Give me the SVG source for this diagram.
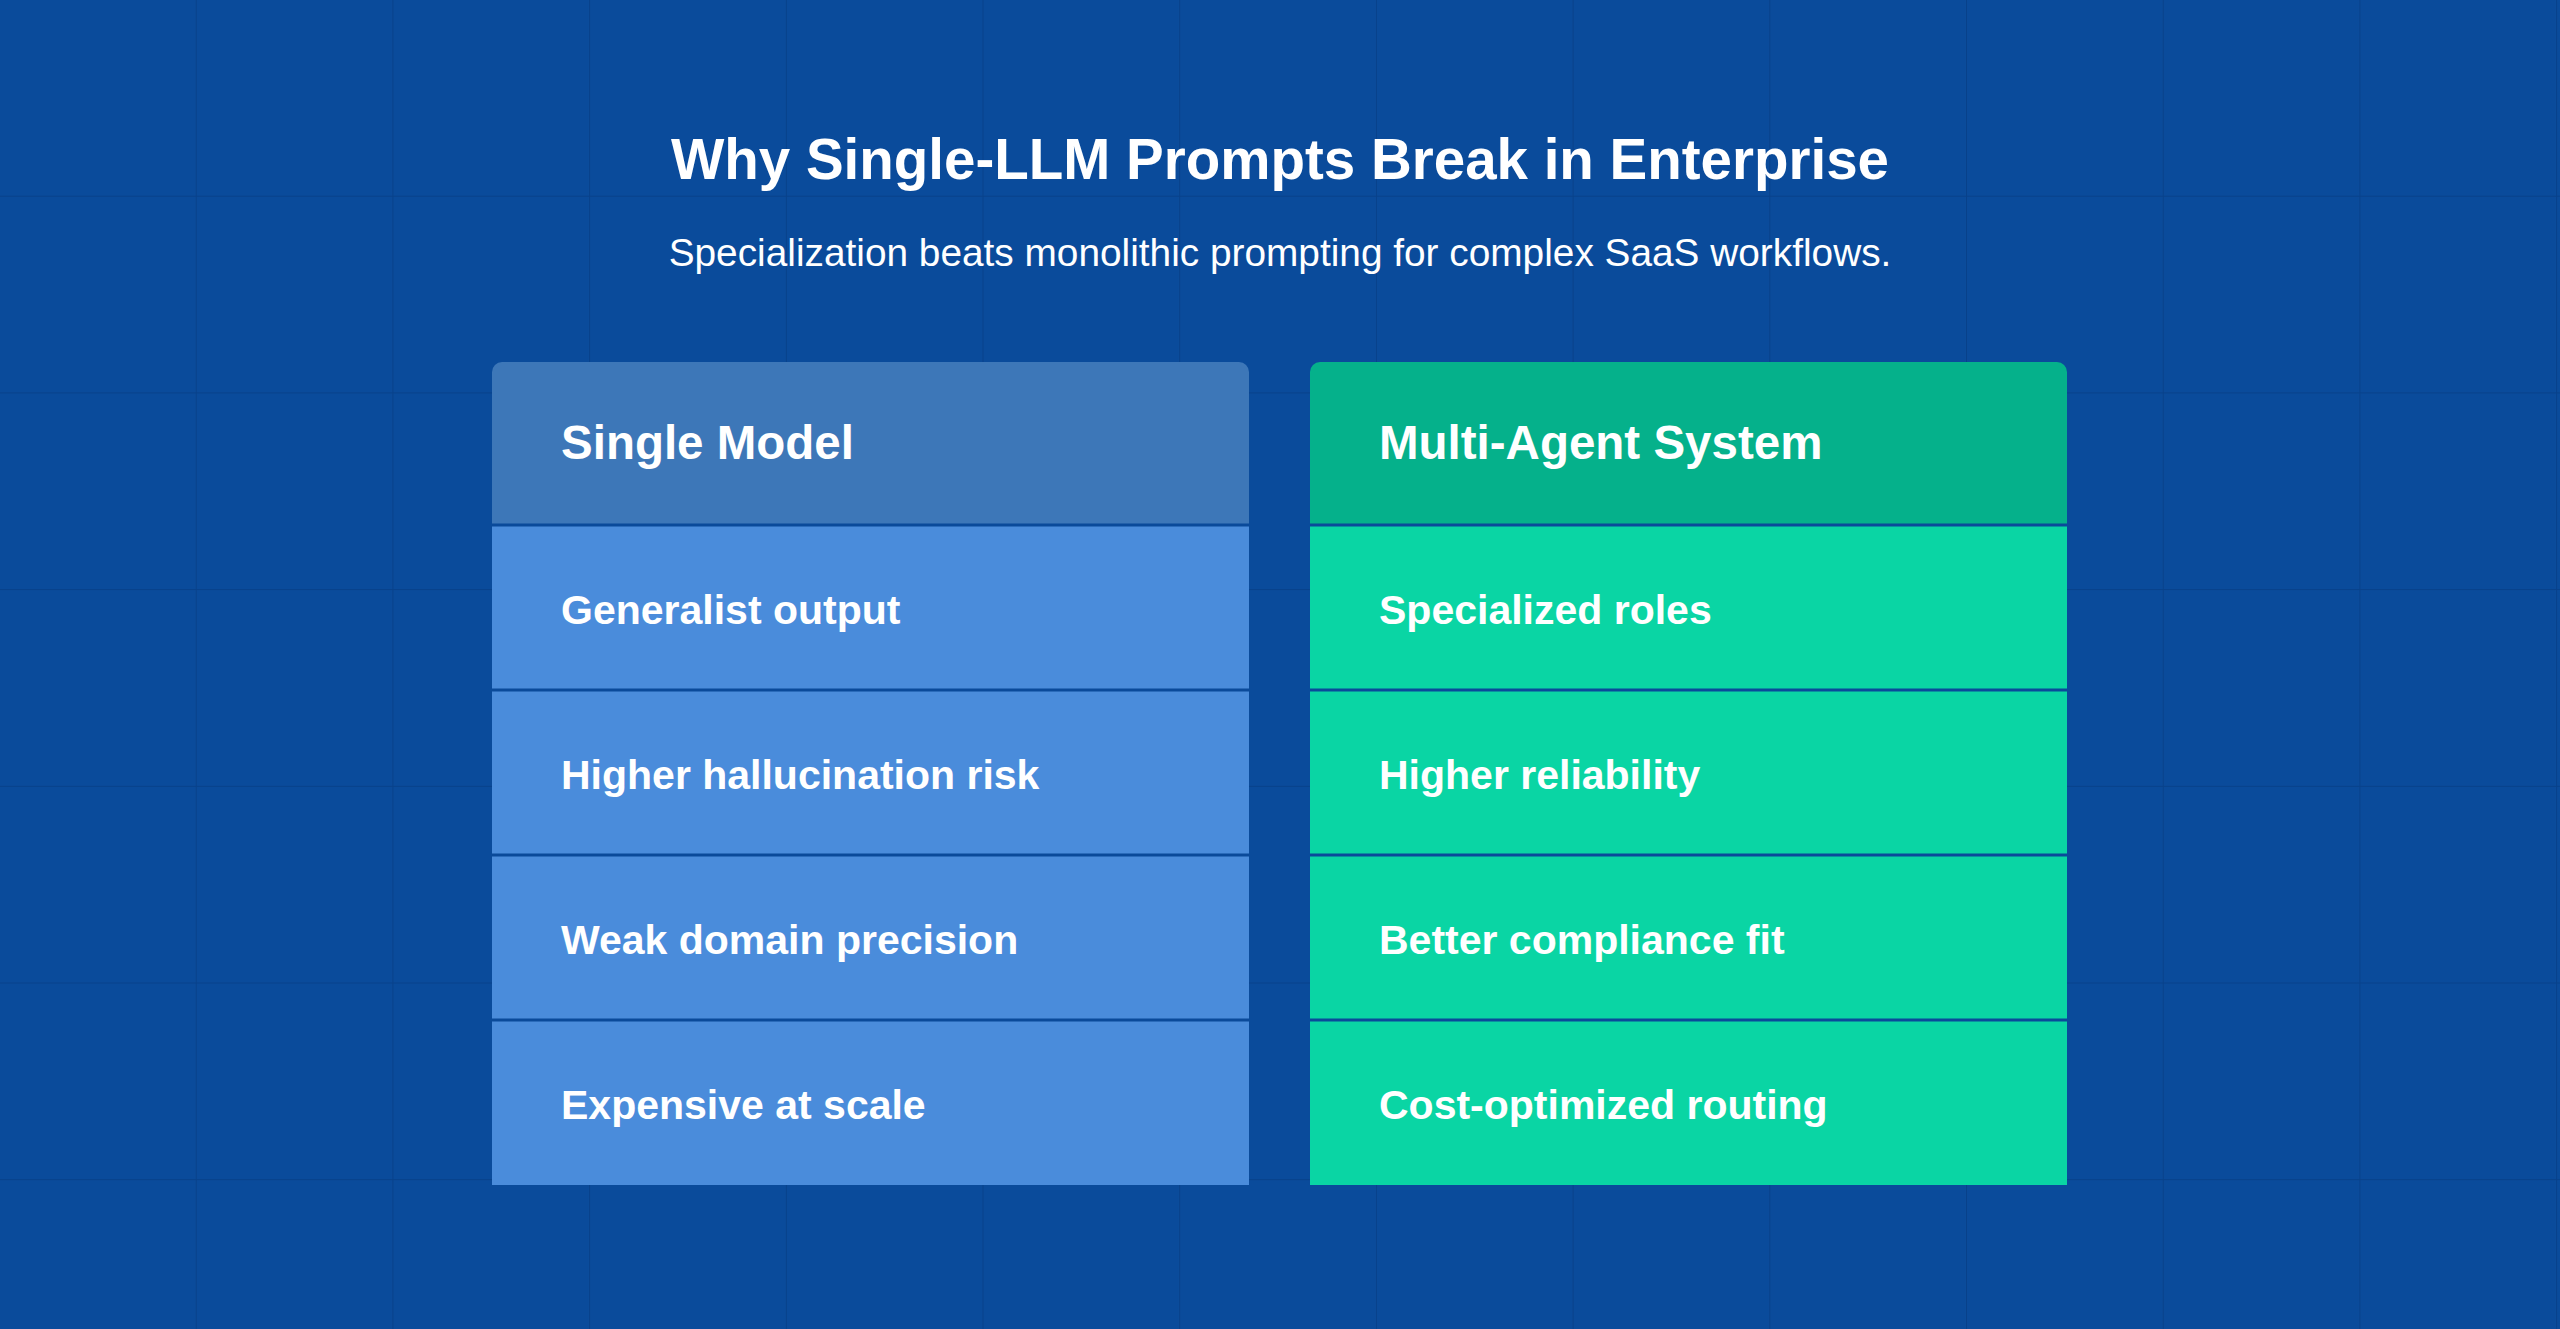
<svg xmlns="http://www.w3.org/2000/svg" width="2560" height="1329" viewBox="0 0 2560 1329">
<defs>
<pattern id="grid" x="0" y="0" width="196.7" height="196.7" patternUnits="userSpaceOnUse">
<path d="M196.7 0V196.7M0 196.7H196.7" fill="none" stroke="#08418A" stroke-width="2"/>
</pattern>
<style>
text{font-family:"Liberation Sans",Arial,sans-serif;fill:#fff}
.h{font-size:47.5px;font-weight:bold}
.r{font-size:41px;font-weight:bold}
.sep{stroke:#0A4A9A;stroke-width:3}
</style>
</defs>
<rect width="2560" height="1329" fill="#0A4B9B"/>
<rect width="2560" height="1329" fill="url(#grid)"/>
<text x="1280" y="179" text-anchor="middle" font-size="56.5" font-weight="bold">Why Single-LLM Prompts Break in Enterprise</text>
<text x="1280" y="266" text-anchor="middle" font-size="38.8">Specialization beats monolithic prompting for complex SaaS workflows.</text>
<g id="left">
<path d="M492 372a10 10 0 0 1 10-10h737a10 10 0 0 1 10 10V525H492Z" fill="#3D77B8"/>
<rect x="492" y="525" width="757" height="660" fill="#4A8CDB"/>
<line class="sep" x1="492" y1="525" x2="1249" y2="525"/>
<line class="sep" x1="492" y1="690" x2="1249" y2="690"/>
<line class="sep" x1="492" y1="855" x2="1249" y2="855"/>
<line class="sep" x1="492" y1="1020" x2="1249" y2="1020"/>
<text class="h" x="561" y="459">Single Model</text>
<text class="r" x="561" y="624">Generalist output</text>
<text class="r" x="561" y="789">Higher hallucination risk</text>
<text class="r" x="561" y="954">Weak domain precision</text>
<text class="r" x="561" y="1119">Expensive at scale</text>
</g>
<g id="right">
<path d="M1310 372a10 10 0 0 1 10-10h737a10 10 0 0 1 10 10V525H1310Z" fill="#05B18B"/>
<rect x="1310" y="525" width="757" height="660" fill="#0AD5A4"/>
<line class="sep" x1="1310" y1="525" x2="2067" y2="525"/>
<line class="sep" x1="1310" y1="690" x2="2067" y2="690"/>
<line class="sep" x1="1310" y1="855" x2="2067" y2="855"/>
<line class="sep" x1="1310" y1="1020" x2="2067" y2="1020"/>
<text class="h" x="1379" y="459">Multi-Agent System</text>
<text class="r" x="1379" y="624">Specialized roles</text>
<text class="r" x="1379" y="789">Higher reliability</text>
<text class="r" x="1379" y="954">Better compliance fit</text>
<text class="r" x="1379" y="1119">Cost-optimized routing</text>
</g>
<g id="connectors"/>
</svg>
